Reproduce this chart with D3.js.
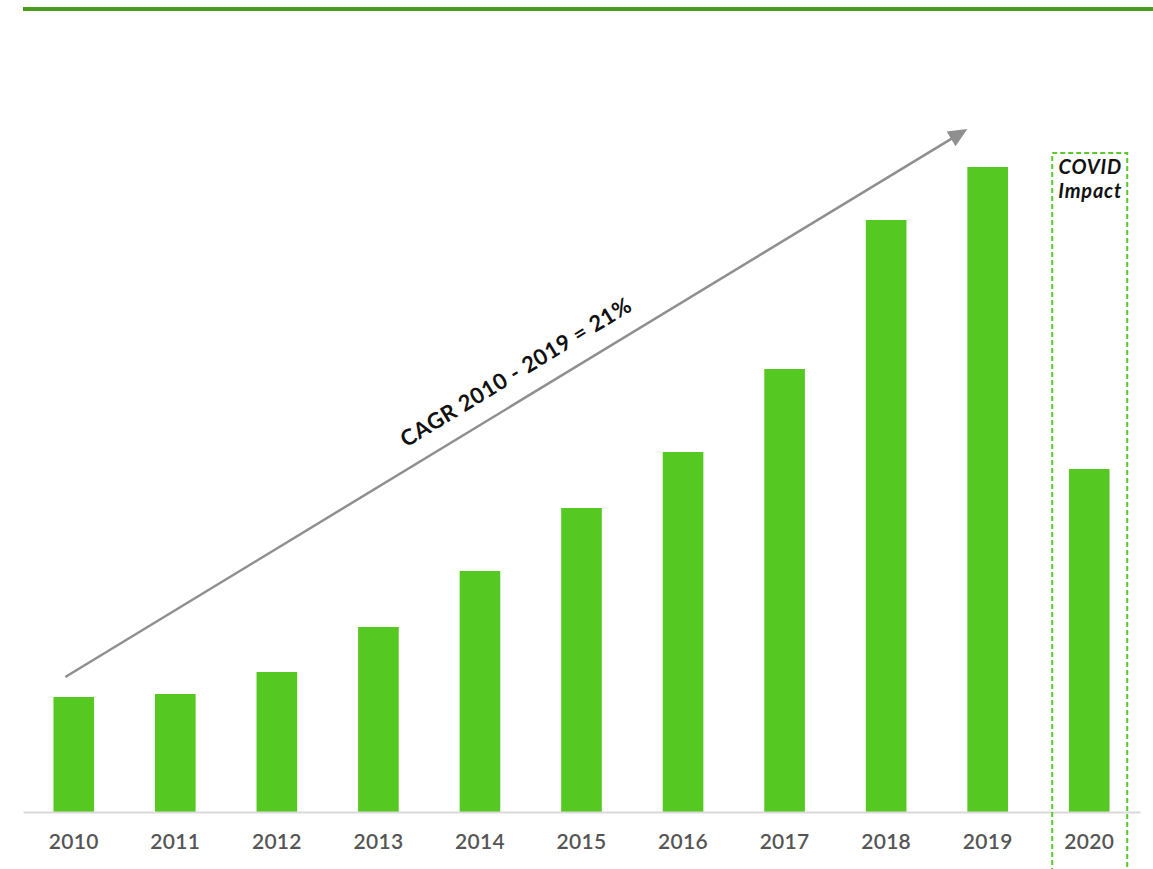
<!DOCTYPE html>
<html>
<head>
<meta charset="utf-8">
<script src="https://cdn.jsdelivr.net/npm/d3@7"></script>
<style>
  html, body { margin: 0; padding: 0; background: #fff; }
  svg { display: block; }
</style>
</head>
<body>
<svg id="chart" width="1153" height="869"></svg>
<script>
// ---- data (bar heights in relative units) ----
const years  = ["2010","2011","2012","2013","2014","2015","2016","2017","2018","2019","2020"];
const values = [115, 118, 140, 185, 241, 304, 360, 443, 592, 645, 343];
const cagrLabel = "CAGR 2010 - 2019 = 21%";
const covidLabel = ["COVID", "Impact"];
// arrow anchors: [category, value]
const arrowStart = ["2010", 135];
const arrowEnd   = ["2019", 683];

const svg = d3.select("#chart");
const W = 1153, H = 869;
const baseline = 812;

const x = d3.scaleBand().domain(years).range([23, 1140]).paddingInner(0.6).paddingOuter(0.3);
const y = d3.scaleLinear().domain([0, 700]).range([baseline, baseline - 700]);

// top rule
svg.append("line")
  .attr("x1", 23).attr("x2", W).attr("y1", 9).attr("y2", 9)
  .attr("stroke", "#4b9b1f").attr("stroke-width", 4);

// bars
svg.append("g").selectAll("rect").data(years).join("rect")
  .attr("x", d => x(d))
  .attr("y", (d, i) => y(values[i]))
  .attr("width", x.bandwidth())
  .attr("height", (d, i) => y(0) - y(values[i]))
  .attr("fill", "#56c822");

// axis
const axis = svg.append("g").attr("transform", `translate(0,${baseline})`)
  .call(d3.axisBottom(x).tickSize(0).tickPadding(22));
axis.select(".domain").attr("stroke", "#d9d9d9").attr("stroke-width", 2);
axis.selectAll("text")
  .attr("font-family", "Lato, 'Open Sans', sans-serif")
  .attr("font-size", 21)
  .attr("font-weight", 600)
  .attr("letter-spacing", 0.3)
  .attr("fill", "#555555");

// COVID dashed box around 2020
const c20 = x("2020") + x.bandwidth() / 2;
svg.append("rect")
  .attr("x", c20 - 37).attr("y", 153)
  .attr("width", 75).attr("height", H)
  .attr("fill", "none")
  .attr("stroke", "#5ac92a").attr("stroke-width", 2)
  .attr("stroke-dasharray", "5,3");
const covid = svg.append("text")
  .attr("x", c20 + 1).attr("y", 174)
  .attr("text-anchor", "middle")
  .attr("font-family", "Lato, 'Open Sans', sans-serif")
  .attr("font-size", 20).attr("font-weight", 700).attr("font-style", "italic")
  .attr("letter-spacing", 0.8)
  .attr("fill", "#111");
covid.selectAll("tspan").data(covidLabel).join("tspan")
  .attr("x", c20 + 1).attr("dy", (d, i) => i ? 24 : 0).text(d => d);

// CAGR arrow
const x1 = x(arrowStart[0]) + x.bandwidth() / 2 - 8.5, y1 = y(arrowStart[1]);
const x2 = x(arrowEnd[0]), y2 = y(arrowEnd[1]);
const ang = Math.atan2(y2 - y1, x2 - x1);
const headLen = 19, headW = 8.5;
const bx = x2 - headLen * Math.cos(ang), by = y2 - headLen * Math.sin(ang);
svg.append("line")
  .attr("x1", x1).attr("y1", y1).attr("x2", bx + 2 * Math.cos(ang)).attr("y2", by + 2 * Math.sin(ang))
  .attr("stroke", "#8f8f8f").attr("stroke-width", 2.5);
svg.append("path")
  .attr("d", `M${x2},${y2} L${bx - headW * Math.sin(ang)},${by + headW * Math.cos(ang)} L${bx + headW * Math.sin(ang)},${by - headW * Math.cos(ang)} Z`)
  .attr("fill", "#8f8f8f");

// CAGR label
const deg = ang * 180 / Math.PI;
const tx = 516, ty = 372;
svg.append("text")
  .attr("transform", `translate(${tx},${ty}) rotate(${deg})`)
  .attr("text-anchor", "middle")
  .attr("dy", "0.35em")
  .attr("font-family", "Lato, 'Open Sans', sans-serif")
  .attr("font-size", 22).attr("font-weight", 700)
  .attr("letter-spacing", 0.6)
  .attr("fill", "#111")
  .text(cagrLabel);
</script>
</body>
</html>
